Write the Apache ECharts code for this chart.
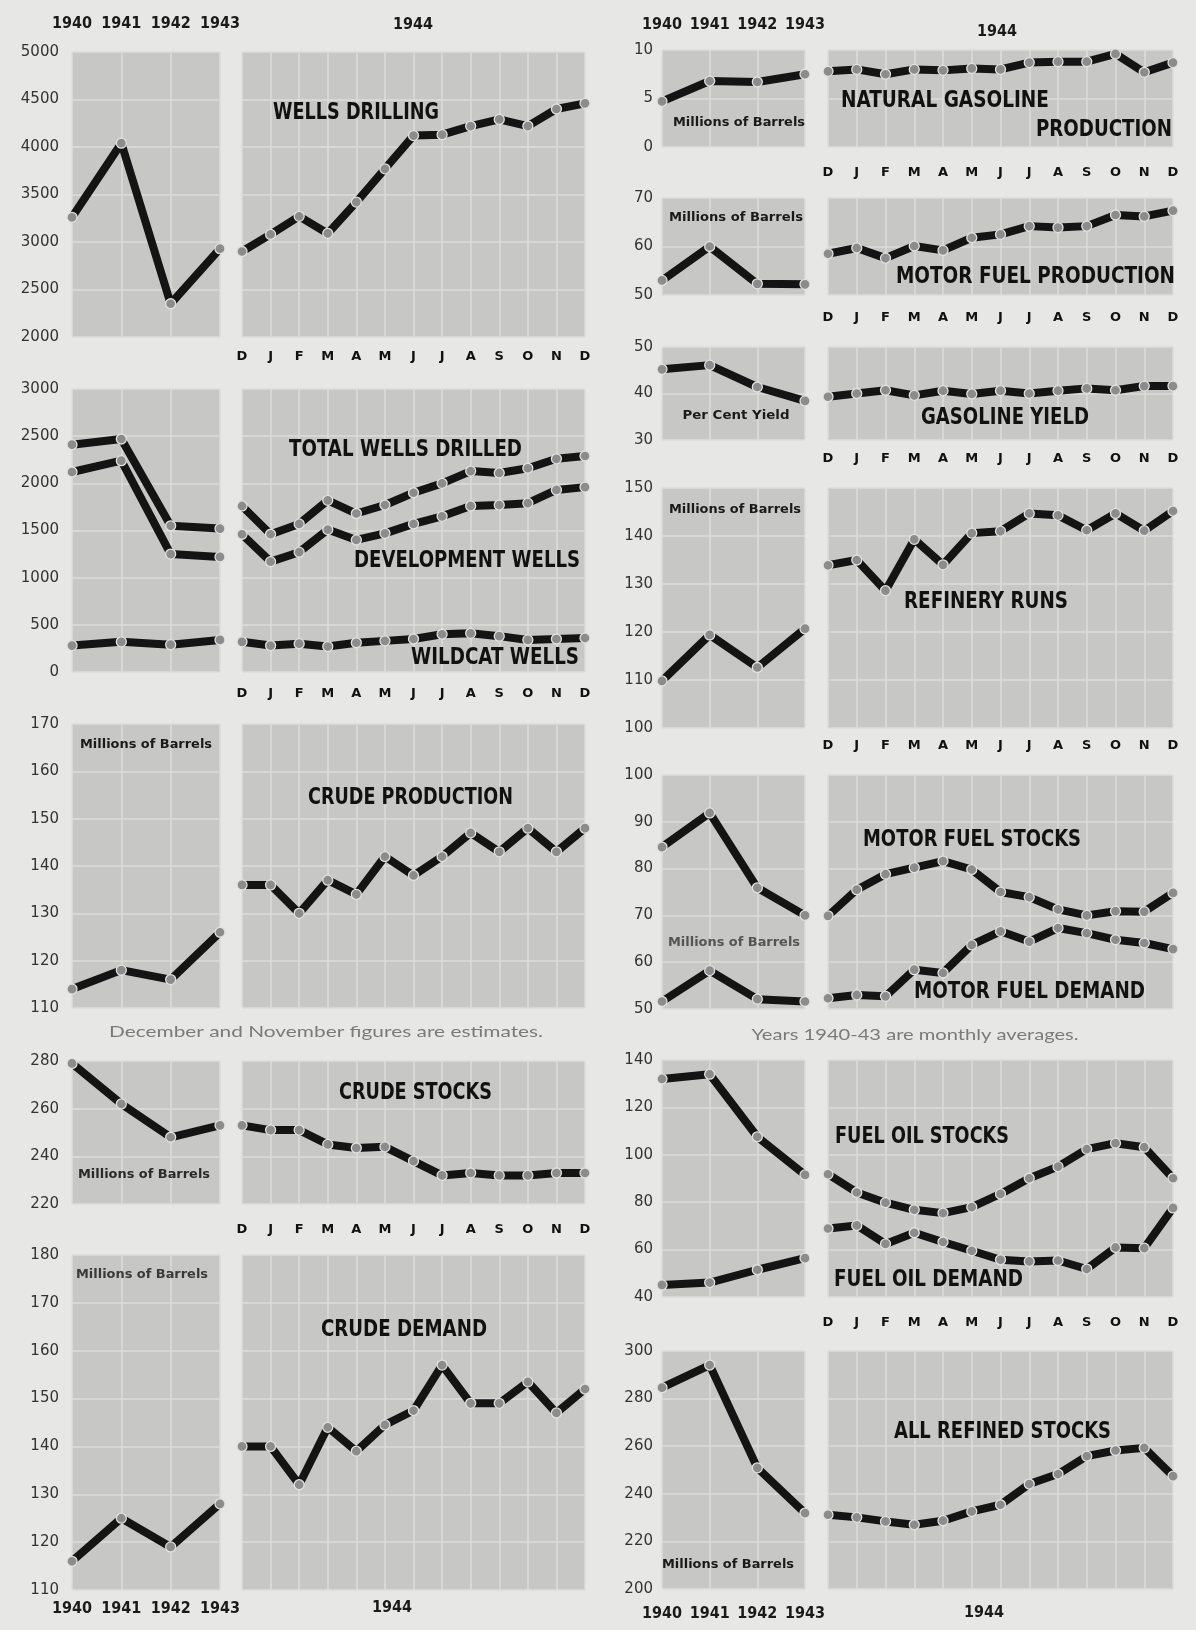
<!DOCTYPE html>
<html><head><meta charset="utf-8">
<script src="https://cdn.jsdelivr.net/npm/echarts@6/dist/echarts.min.js"></script>
<style>html,body{margin:0;padding:0;background:#e7e7e5;}#c{width:1196px;height:1630px;}</style>
</head><body><div id="c"></div>
<script>
// ---------- data ----------
const years = ['1940', '1941', '1942', '1943'];
const months = ['D', 'J', 'F', 'M', 'A', 'M', 'J', 'J', 'A', 'S', 'O', 'N', 'D'];

const wellsDrillingYears = [3260, 4040, 2350, 2930];
const wellsDrillingMonths = [2900, 3080, 3270, 3090, 3420, 3770, 4120, 4130, 4220, 4290, 4220, 4400, 4460];

const totalWellsYears = [2410, 2470, 1550, 1520];
const totalWellsMonths = [1760, 1460, 1570, 1820, 1680, 1770, 1900, 2000, 2130, 2110, 2160, 2260, 2290];
const developmentWellsYears = [2120, 2240, 1250, 1220];
const developmentWellsMonths = [1460, 1170, 1270, 1510, 1400, 1470, 1570, 1650, 1760, 1770, 1790, 1930, 1960];
const wildcatWellsYears = [280, 320, 290, 340];
const wildcatWellsMonths = [320, 280, 300, 270, 310, 330, 350, 400, 410, 380, 340, 350, 360];

const crudeProductionYears = [114, 118, 116, 126];
const crudeProductionMonths = [136, 136, 130, 137, 134, 142, 138, 142, 147, 143, 148, 143, 148];

const crudeStocksYears = [279, 262, 248, 253];
const crudeStocksMonths = [253, 251, 251, 245, 243.5, 244, 238, 232, 233, 232, 232, 233, 233];

const crudeDemandYears = [116, 125, 119, 128];
const crudeDemandMonths = [140, 140, 132, 144, 139, 144.5, 147.5, 157, 149, 149, 153.5, 147, 152];

const naturalGasolineYears = [4.7, 6.8, 6.7, 7.5];
const naturalGasolineMonths = [7.8, 8.0, 7.5, 8.0, 7.9, 8.1, 8.0, 8.7, 8.8, 8.8, 9.6, 7.7, 8.7];

const motorFuelProductionYears = [53.0, 60.0, 52.3, 52.2];
const motorFuelProductionMonths = [58.5, 59.7, 57.6, 60.1, 59.2, 61.8, 62.5, 64.2, 63.9, 64.2, 66.5, 66.2, 67.4];

const gasolineYieldYears = [45.2, 46.1, 41.4, 38.4];
const gasolineYieldMonths = [39.3, 40.0, 40.7, 39.6, 40.6, 39.9, 40.6, 40.0, 40.6, 41.1, 40.7, 41.6, 41.6];

const refineryRunsYears = [109.8, 119.4, 112.6, 120.7];
const refineryRunsMonths = [133.9, 135.0, 128.6, 139.3, 134.0, 140.6, 141.0, 144.7, 144.3, 141.2, 144.7, 141.1, 145.2];

const motorFuelStocksYears = [84.6, 91.9, 75.9, 70.0];
const motorFuelStocksMonths = [69.9, 75.5, 78.8, 80.2, 81.6, 79.8, 75.0, 73.9, 71.3, 70.0, 70.9, 70.8, 74.8];
const motorFuelDemandYears = [51.6, 58.2, 52.1, 51.6];
const motorFuelDemandMonths = [52.3, 53.0, 52.7, 58.4, 57.7, 63.7, 66.6, 64.4, 67.3, 66.2, 64.8, 64.1, 62.8];

const fuelOilStocksYears = [132.0, 134.0, 107.6, 91.5];
const fuelOilStocksMonths = [91.8, 84.1, 79.8, 76.8, 75.4, 77.9, 83.5, 90.1, 95.0, 102.4, 104.9, 103.2, 90.1];
const fuelOilDemandYears = [45.1, 46.1, 51.5, 56.4];
const fuelOilDemandMonths = [68.9, 70.2, 62.4, 67.1, 63.2, 59.5, 55.7, 55.0, 55.4, 51.8, 60.9, 60.6, 77.6];

const allRefinedStocksYears = [284.6, 294.1, 250.9, 231.9];
const allRefinedStocksMonths = [231.2, 230.1, 228.4, 227.0, 228.7, 232.6, 235.4, 244.1, 248.3, 255.8, 258.2, 259.3, 247.4];

// ---------- layout ----------
const PLOT_BG = '#c7c7c5';
const GRID_LINE = '#dcdcda';
const LCOL = { yl: 72, yw: 148, ml: 242, mw: 343, lm: 13 };
const RCOL = { yl: 662, yw: 143, ml: 828, mw: 345, lm: 9 };

const panels = [
  { col: LCOL, top: 52, h: 285, min: 2000, max: 5000, iv: 500, s: [[wellsDrillingYears, wellsDrillingMonths]], mm: 13, yt: 20 },
  { col: LCOL, top: 389, h: 283, min: 0, max: 3000, iv: 500, s: [[totalWellsYears, totalWellsMonths], [developmentWellsYears, developmentWellsMonths], [wildcatWellsYears, wildcatWellsMonths]], mm: 15 },
  { col: LCOL, top: 724, h: 284, min: 110, max: 170, iv: 10, s: [[crudeProductionYears, crudeProductionMonths]] },
  { col: LCOL, top: 1061, h: 143, min: 220, max: 280, iv: 20, s: [[crudeStocksYears, crudeStocksMonths]], mm: 19 },
  { col: LCOL, top: 1255, h: 335, min: 110, max: 180, iv: 10, s: [[crudeDemandYears, crudeDemandMonths]], yb: 11 },
  { col: RCOL, top: 50, h: 97, min: 0, max: 10, iv: 5, s: [[naturalGasolineYears, naturalGasolineMonths]], mm: 19, yt: 17 },
  { col: RCOL, top: 198, h: 97, min: 50, max: 70, iv: 10, s: [[motorFuelProductionYears, motorFuelProductionMonths]], mm: 16 },
  { col: RCOL, top: 347, h: 93, min: 30, max: 50, iv: 10, s: [[gasolineYieldYears, gasolineYieldMonths]], mm: 12 },
  { col: RCOL, top: 488, h: 240, min: 100, max: 150, iv: 10, s: [[refineryRunsYears, refineryRunsMonths]], mm: 11 },
  { col: RCOL, top: 775, h: 234, min: 50, max: 100, iv: 10, s: [[motorFuelStocksYears, motorFuelStocksMonths], [motorFuelDemandYears, motorFuelDemandMonths]] },
  { col: RCOL, top: 1060, h: 237, min: 40, max: 140, iv: 20, s: [[fuelOilStocksYears, fuelOilStocksMonths], [fuelOilDemandYears, fuelOilDemandMonths]], mm: 19 },
  { col: RCOL, top: 1351, h: 238, min: 200, max: 300, iv: 20, s: [[allRefinedStocksYears, allRefinedStocksMonths]], yb: 17 }
];

const NARROW = '"Liberation Sans Narrow", "DejaVu Sans Condensed", "Arial Narrow", sans-serif';
const COND = '"DejaVu Sans Condensed", "Liberation Sans Narrow", sans-serif';

const grid = [], xAxis = [], yAxis = [], series = [];
panels.forEach(p => {
  [0, 1].forEach(k => {
    const gi = grid.length;
    grid.push({
      left: k ? p.col.ml : p.col.yl, width: k ? p.col.mw : p.col.yw,
      top: p.top, height: p.h, show: true, backgroundColor: PLOT_BG, borderWidth: 0
    });
    let xl = { show: false };
    let pos = 'bottom';
    if (k === 1 && p.mm !== undefined) {
      xl = { show: true, interval: 0, margin: p.mm, fontFamily: '"DejaVu Sans", sans-serif', fontWeight: 'bold', fontSize: 13, color: '#111' };
    } else if (k === 0 && p.yt !== undefined) {
      pos = 'top';
      xl = { show: true, interval: 0, margin: p.yt, fontFamily: NARROW, fontWeight: 'bold', fontSize: 16, color: '#1a1a1a' };
    } else if (k === 0 && p.yb !== undefined) {
      xl = { show: true, interval: 0, margin: p.yb, fontFamily: NARROW, fontWeight: 'bold', fontSize: 16, color: '#1a1a1a' };
    }
    xAxis.push({
      type: 'category', gridIndex: gi, data: k ? months : years, boundaryGap: false, position: pos,
      axisLine: { show: false }, axisTick: { show: false }, axisLabel: xl,
      splitLine: { show: true, lineStyle: { color: GRID_LINE, width: 1.5 } }
    });
    yAxis.push({
      type: 'value', gridIndex: gi, min: p.min, max: p.max, interval: p.iv,
      axisLine: { show: false }, axisTick: { show: false },
      splitLine: { show: true, lineStyle: { color: GRID_LINE, width: 1.5 } },
      axisLabel: { show: k === 0, margin: p.col.lm, fontFamily: '"DejaVu Sans", sans-serif', fontSize: 15, color: '#333', showMinLabel: true, showMaxLabel: true, formatter: v => String(v) }
    });
    p.s.forEach(pair => {
      series.push({
        type: 'line', xAxisIndex: gi, yAxisIndex: gi, data: pair[k],
        lineStyle: { color: '#141414', width: 8 },
        symbol: 'circle', symbolSize: 10,
        itemStyle: { color: '#8c8c8c', borderColor: '#e2e2e2', borderWidth: 1.3 },
        z: 3
      });
    });
  });
});

// ---------- text ----------
const measureCtx = document.createElement('canvas').getContext('2d');
function fitText(text, x, y, font, targetW, fill, align) {
  measureCtx.font = font;
  const w = measureCtx.measureText(text).width;
  const sx = targetW ? targetW / w : 1;
  let ox = x;
  if (align === 'center') ox = x - (w * sx) / 2;
  return {
    type: 'text', x: ox, y: y, scaleX: sx, z: 10,
    style: { text: text, font: font, fill: fill || '#111', textAlign: 'left', textVerticalAlign: 'middle' }
  };
}
const TF = 'bold 23px ' + NARROW;
const titles = [
  ['WELLS DRILLING', 273, 113, 166],
  ['TOTAL WELLS DRILLED', 289, 450, 233],
  ['DEVELOPMENT WELLS', 354, 561, 226],
  ['WILDCAT WELLS', 411, 658, 168],
  ['CRUDE PRODUCTION', 308, 798, 205],
  ['CRUDE STOCKS', 339, 1093, 153],
  ['CRUDE DEMAND', 321, 1330, 166],
  ['NATURAL GASOLINE', 841, 101, 208],
  ['PRODUCTION', 1036, 130, 136],
  ['MOTOR FUEL PRODUCTION', 896, 277, 279],
  ['GASOLINE YIELD', 921, 418, 168],
  ['REFINERY RUNS', 904, 602, 164],
  ['MOTOR FUEL STOCKS', 863, 840, 218],
  ['MOTOR FUEL DEMAND', 914, 992, 231],
  ['FUEL OIL STOCKS', 835, 1137, 174],
  ['FUEL OIL DEMAND', 834, 1280, 189],
  ['ALL REFINED STOCKS', 894, 1432, 217]
];
const SF = 'bold 13px ' + NARROW;
const subs = [
  ['Millions of Barrels', 146, 745, 132, '#1a1a1a'],
  ['Millions of Barrels', 144, 1175, 132, '#2a2a2a'],
  ['Millions of Barrels', 142, 1275, 132, '#3a3a3a'],
  ['Millions of Barrels', 739, 123, 132, '#1a1a1a'],
  ['Millions of Barrels', 736, 218, 134, '#1a1a1a'],
  ['Per Cent Yield', 736, 416, 107, '#1a1a1a'],
  ['Millions of Barrels', 735, 510, 132, '#1a1a1a'],
  ['Millions of Barrels', 734, 943, 132, '#555'],
  ['Millions of Barrels', 728, 1565, 132, '#1a1a1a']
];
const NF = '15px Lato, "Open Sans", sans-serif';
const graphics = [];
titles.forEach(t => graphics.push(fitText(t[0], t[1], t[2], TF, t[3], '#111', 'left')));
subs.forEach(t => graphics.push(fitText(t[0], t[1], t[2], SF, t[3], t[4], 'center')));
graphics.push(fitText('December and November figures are estimates.', 326, 1032, NF, 434, '#7a7a7a', 'center'));
graphics.push(fitText('Years 1940-43 are monthly averages.', 915, 1035, NF, 327, '#7a7a7a', 'center'));
const YF = 'bold 16px ' + NARROW;
graphics.push(fitText('1944', 413, 25, YF, null, '#1a1a1a', 'center'));
graphics.push(fitText('1944', 997, 32, YF, null, '#1a1a1a', 'center'));
graphics.push(fitText('1944', 392, 1608, YF, null, '#1a1a1a', 'center'));
graphics.push(fitText('1944', 984, 1613, YF, null, '#1a1a1a', 'center'));

const chart = echarts.init(document.getElementById('c'));
chart.setOption({
  backgroundColor: '#e7e7e5',
  animation: false,
  grid: grid, xAxis: xAxis, yAxis: yAxis, series: series,
  graphic: { elements: graphics }
});
</script></body></html>
